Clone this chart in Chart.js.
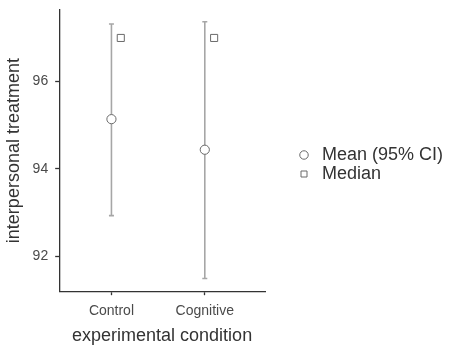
<!DOCTYPE html>
<html>
<head>
<meta charset="utf-8">
<script src="https://cdn.jsdelivr.net/npm/chart.js@4"></script>
<style>
  html, body { margin: 0; padding: 0; background: #fff; }
  #wrap { width: 450px; height: 347px; }
</style>
</head>
<body>
<div id="wrap"><canvas id="plot"></canvas></div>
<script>
// values
var categories = ['Control', 'Cognitive'];
var catX = [1, 2];
var meanValues = [95.14, 94.44];
var ciLow = [92.93, 91.49];
var ciHigh = [97.32, 97.37];
var medianValues = [97, 97];
var yTicks = [92, 94, 96];

var medianShift = 0.1;
var fontFamily = '"Liberation Sans", Arial, sans-serif';

var meanPoints = catX.map(function(x, i) { return {x: x, y: meanValues[i]}; });
var medianPoints = catX.map(function(x, i) { return {x: x + medianShift, y: medianValues[i]}; });
var ciPoints = [];
catX.forEach(function(x, i) {
  ciPoints.push({x: x, y: ciLow[i]});
  ciPoints.push({x: x, y: ciHigh[i]});
  ciPoints.push({x: x + 0.5, y: null});
});

// fixed legend width and a small nudge
var legendPlace = {
  id: 'legendPlace',
  beforeInit: function(chart) {
    var lg = chart.legend;
    var fit = lg.fit;
    lg.fit = function() {
      fit.call(this);
      this.width = 185;
    };
  },
  afterLayout: function(chart) {
    chart.legend.left += 29;
    chart.legend.right += 29;
    chart.legend.top -= 14;
    chart.legend.bottom -= 14;
  }
};

window.onload = function() {
  var ctx = document.getElementById('plot').getContext('2d');
  var myChart = new Chart(ctx, {
    type: 'scatter',
    data: {
      datasets: [{
        label: 'Mean (95% CI)',
        data: meanPoints,
        pointStyle: 'circle',
        pointRadius: 4.6,
        backgroundColor: '#ffffff',
        borderColor: '#6a6a6a',
        borderWidth: 1,
        order: 0
      }, {
        label: 'Median',
        data: medianPoints,
        pointStyle: 'rect',
        pointRadius: 5,
        backgroundColor: '#ffffff',
        borderColor: '#6a6a6a',
        borderWidth: 1,
        order: 1
      }, {
        label: 'CI',
        type: 'line',
        data: ciPoints,
        showLine: true,
        spanGaps: false,
        pointStyle: 'line',
        pointRadius: 2.5,
        borderColor: '#a6a6a6',
        backgroundColor: '#a6a6a6',
        borderWidth: 1.6,
        order: 2
      }]
    },
    options: {
      responsive: true,
      maintainAspectRatio: false,
      animation: false,
      events: [],
      layout: { padding: { top: 10, bottom: 0, left: 0, right: 0 } },
      plugins: {
        tooltip: { enabled: false },
        legend: {
          position: 'right',
          align: 'center',
          labels: {
            usePointStyle: true,
            boxHeight: 6,
            padding: 1,
            color: '#333333',
            font: { family: fontFamily, size: 18 },
            filter: function(item) { return item.text !== 'CI'; }
          }
        }
      },
      scales: {
        x: {
          type: 'linear',
          min: 0.44,
          max: 2.645,
          afterBuildTicks: function(axis) {
            axis.ticks = catX.map(function(v) { return {value: v}; });
          },
          ticks: {
            color: '#4a4a4a',
            padding: 7.5,
            font: { family: fontFamily, size: 14 },
            callback: function(v) {
              var i = catX.indexOf(v);
              return i >= 0 ? categories[i] : '';
            }
          },
          grid: { drawOnChartArea: false, tickLength: 4, color: '#333333', tickWidth: 1.3 },
          border: { display: true, color: '#333333', width: 1.3 },
          title: {
            display: true,
            text: 'experimental condition',
            color: '#333333',
            font: { family: fontFamily, size: 18, lineHeight: 1 },
            padding: { top: 0, bottom: 2 }
          }
        },
        y: {
          min: 91.2,
          max: 97.64,
          afterBuildTicks: function(axis) {
            axis.ticks = yTicks.map(function(v) { return {value: v}; });
          },
          afterFit: function(axis) {
            axis.paddingTop = 0;
            axis.paddingBottom = 0;
          },
          ticks: {
            color: '#4a4a4a',
            padding: 7,
            font: { family: fontFamily, size: 14 }
          },
          grid: { drawOnChartArea: false, tickLength: 4, color: '#333333', tickWidth: 1.3 },
          border: { display: true, color: '#333333', width: 1.3 },
          title: {
            display: true,
            text: 'interpersonal treatment',
            color: '#333333',
            font: { family: fontFamily, size: 18 },
            padding: { top: 3, bottom: 1 }
          }
        }
      }
    },
    plugins: [legendPlace]
  });
};
</script>
</body>
</html>
